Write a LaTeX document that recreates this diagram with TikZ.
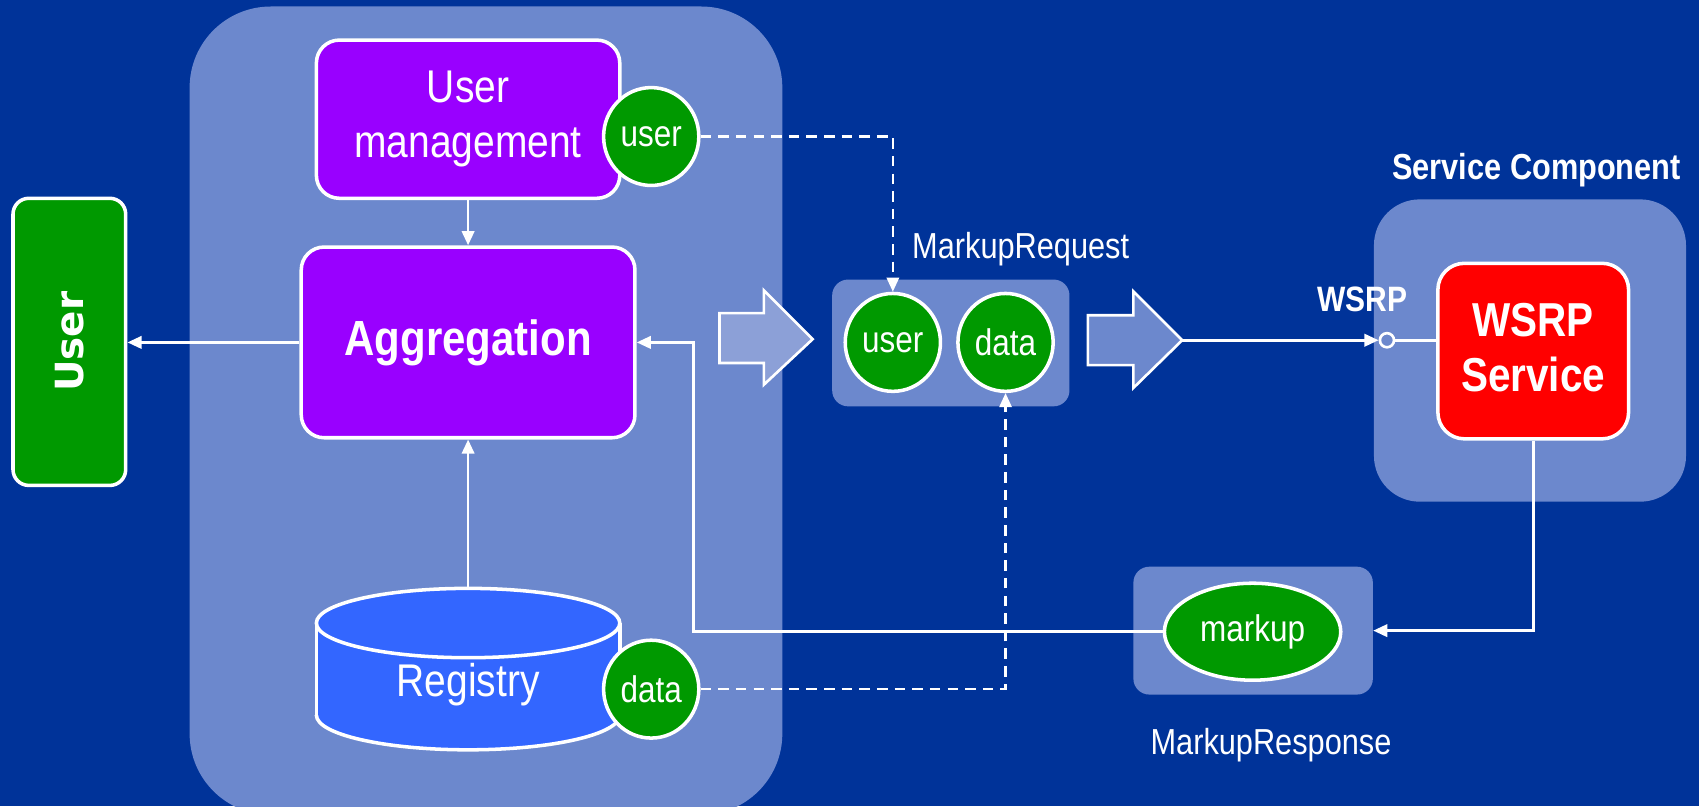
\documentclass[tikz,border=0pt]{standalone}
\usepackage{fontspec}
\setmainfont{Liberation Sans}[FakeStretch=0.85]
\newfontfamily\widefont{DejaVu Sans}
\usetikzlibrary{shapes.geometric,arrows.meta,fit}
\definecolor{bg}{RGB}{0,51,153}
\definecolor{tex}{RGB}{108,136,205}
\definecolor{texlight}{RGB}{140,160,215}
\definecolor{purp}{RGB}{153,0,255}
\definecolor{grn}{RGB}{0,153,0}
\definecolor{cylblue}{RGB}{51,102,255}
\begin{document}
\begin{tikzpicture}[x=0.6144pt,y=-0.6144pt,
  container/.style={fill=tex, inner sep=0pt},
  box/.style={draw=white, line width=2pt, inner sep=0pt},
  boxtext/.style={text=white, align=center, inner sep=0pt},
  oval/.style={ellipse, draw=white, line width=2pt, fill=grn, text=white, inner sep=0pt,
    font=\fontsize{21}{24}\selectfont},
  conn/.style={draw=white, line width=1.5pt, -{Triangle[length=8pt,width=7pt]}},
  plain/.style={draw=white, line width=1.5pt},
  dashconn/.style={draw=white, line width=1.2pt, dash pattern=on 6pt off 4pt,
    -{Triangle[length=8pt,width=7pt]}},
  lbl/.style={text=white, inner sep=0pt, font=\fontsize{20.5}{24}\selectfont},
  blockarrow/.style={draw=white, line width=1.5pt, line join=miter}
]
\fill[bg] (0,0) rectangle (1568,744);
\useasboundingbox (0,0) rectangle (1568,744);
\begin{scope}
\clip (0,0) rectangle (1568,744);
\node[container, rounded corners=46pt, fit={(175,6) (722,752)}] (portal) {};
\end{scope}
\node[container, rounded corners=26pt, fit={(1268,184) (1556,463)}] (sc) {};
\node[container, rounded corners=9pt, fit={(768,258) (987,375)}] (req) {};
\node[container, rounded corners=9pt, fit={(1046,523) (1267,641)}] (resp) {};

% main boxes
\node[box, fill=purp, rounded corners=13pt, fit={(292,37) (572,183)}] (um) {};
\node[boxtext, font=\fontsize{26}{31}\selectfont] (umtxt) at (um.center) {User\\management};
\node[box, fill=purp, rounded corners=13pt, fit={(278,228) (586,404)}] (agg) {};
\node[boxtext, font=\bfseries\fontsize{28}{32}\selectfont] (aggtxt) at (agg.center) {Aggregation};
\node[box, fill=grn, rounded corners=9pt, fit={(12,183) (116,448)}] (user) {};
\node[boxtext, rotate=90, font=\widefont\bfseries\fontsize{22}{26}\selectfont] (usertxt) at (user.center) {User};
\node[box, fill=red, rounded corners=15pt, fit={(1327,243) (1503,405)}] (wsrp) {};
\node[boxtext, font=\bfseries\fontsize{27}{31}\selectfont] (wsrptxt) at ([yshift=2pt]wsrp.center) {WSRP\\Service};

% registry cylinder
\fill[cylblue] (292,575) rectangle (572,660);
\fill[cylblue] (432,660) ellipse (140 and 32);
\begin{scope}
\clip (280,660) rectangle (585,700);
\draw[white, line width=2pt] (432,660) ellipse (140 and 32);
\end{scope}
\draw[white, line width=2pt] (292,575) -- (292,660) (572,575) -- (572,660);
\filldraw[fill=cylblue, draw=white, line width=2pt] (432,575) ellipse (140 and 32);
\node[inner sep=0pt, fit={(292,543) (572,692)}] (reg) {};
\node[boxtext, font=\fontsize{26}{31}\selectfont] (regtxt) at (432,632) {Registry};

% green ovals
\node[oval, minimum width=54pt, minimum height=55.5pt] (user1) at (601,126) {user};
\node[oval, minimum width=54pt, minimum height=55.5pt] (data1) at (601,636) {data};
\node[oval, minimum width=54pt, minimum height=55.5pt] (user2) at (824,316) {user};
\node[oval, minimum width=54pt, minimum height=55.5pt] (data2) at (928,316) {data};
\node[oval, minimum width=100pt, minimum height=55pt] (markup) at (1156,583) {markup};

% port
\node[circle, draw=white, line width=1.5pt, fill=tex, inner sep=0pt, minimum size=8pt] (port) at (1280,314) {};

% block arrows
\filldraw[blockarrow, fill=texlight] (664,289) -- (705,289) -- (705,268) -- (750,313)
  -- (705,355) -- (705,335) -- (664,335) -- cycle;
\filldraw[blockarrow, fill=tex] (1004,291) -- (1046,291) -- (1046,269) -- (1091,314)
  -- (1046,358) -- (1046,337) -- (1004,337) -- cycle;
\coordinate (tip2) at (1091,314);
\coordinate (bend) at (640,583);

% labels
\node[lbl] (mreq) at (942,230) {MarkupRequest};
\node[lbl] (mresp) at (1173,688) {MarkupResponse};
\node[lbl, font=\bfseries\fontsize{20.5}{24}\selectfont] (sclbl) at (1418,157) {Service Component};
\node[lbl, font=\bfseries\fontsize{20}{24}\selectfont] (wsrplbl) at (1257,276) {WSRP};

% connectors
\draw[conn] (um.south) -- (agg.north);
\draw[conn] (reg.north) -- (agg.south);
\draw[conn] (agg.west) -- (agg.west -| user.east);
\draw[conn] (markup.west) -- (bend) |- (agg.east);
\draw[conn] (wsrp.south) |- (resp.east);
\draw[conn] (tip2) -- (port.west);
\draw[plain] (port.east) -- (port.east -| wsrp.west);
\draw[dashconn] (user1.east) -| (user2.north);
\draw[dashconn] (data1.east) -| (data2.south);
\end{tikzpicture}
\end{document}
